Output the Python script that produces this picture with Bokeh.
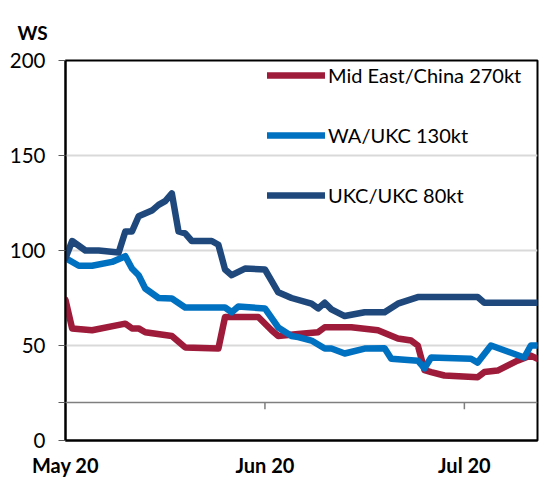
from datetime import datetime
from bokeh.plotting import figure
from bokeh.models import (ColumnDataSource, Legend, LegendItem, Span, FixedTicker,
                          DatetimeTickFormatter, Range1d)
from bokeh.embed import file_html
from bokeh.resources import INLINE

# ---- data ----
ukc_dates = ["2020-05-02", "2020-05-03", "2020-05-05", "2020-05-07", "2020-05-10", "2020-05-11",
             "2020-05-12", "2020-05-13", "2020-05-15", "2020-05-16", "2020-05-17", "2020-05-18",
             "2020-05-19", "2020-05-20", "2020-05-21", "2020-05-24", "2020-05-25", "2020-05-26",
             "2020-05-27", "2020-05-29", "2020-06-01", "2020-06-02", "2020-06-03", "2020-06-05",
             "2020-06-08", "2020-06-09", "2020-06-10", "2020-06-11", "2020-06-13", "2020-06-16",
             "2020-06-19", "2020-06-21", "2020-06-24", "2020-07-03", "2020-07-04", "2020-07-12"]
ukc_vals = [96, 105, 100, 100, 99, 110, 110, 118, 121, 124, 126, 130, 110, 109, 105, 105, 103, 90,
            87, 90.5, 90, 84, 78, 75, 72, 69.5, 72.5, 69, 65.5, 67.5, 67.5, 72, 75.5, 75.5, 72.5, 72.5]

wa_dates = ["2020-05-02", "2020-05-04", "2020-05-06", "2020-05-09", "2020-05-11", "2020-05-12",
            "2020-05-13", "2020-05-14", "2020-05-16", "2020-05-18", "2020-05-20", "2020-05-26",
            "2020-05-27", "2020-05-28", "2020-06-01", "2020-06-03", "2020-06-05", "2020-06-06",
            "2020-06-08", "2020-06-10", "2020-06-11", "2020-06-13", "2020-06-16", "2020-06-19",
            "2020-06-20", "2020-06-24", "2020-06-25", "2020-06-26", "2020-07-02", "2020-07-03",
            "2020-07-05", "2020-07-10", "2020-07-11", "2020-07-12"]
wa_vals = [96, 92, 92, 94, 97, 90.5, 87, 80, 75, 74.7, 70, 70, 67.5, 70.5, 69.5, 59.5, 55, 54.4,
           52.6, 48.4, 48.4, 45.8, 48.4, 48.6, 43, 42, 38, 43.7, 43, 41, 50, 43.7, 50, 50]

me_dates = ["2020-05-02", "2020-05-03", "2020-05-06", "2020-05-11", "2020-05-12", "2020-05-13",
            "2020-05-14", "2020-05-18", "2020-05-20", "2020-05-25", "2020-05-26", "2020-05-31",
            "2020-06-02", "2020-06-03", "2020-06-06", "2020-06-09", "2020-06-10", "2020-06-14",
            "2020-06-18", "2020-06-21", "2020-06-23", "2020-06-24", "2020-06-25", "2020-06-26",
            "2020-06-28", "2020-07-03", "2020-07-04", "2020-07-06", "2020-07-09", "2020-07-11",
            "2020-07-12"]
me_vals = [74, 59, 58, 61.5, 59, 59, 57, 55, 49, 48.4, 65, 65, 58, 55, 56, 57, 59.6, 59.6, 58,
           53.7, 52.6, 50, 37, 36, 34.2, 33.3, 36, 36.8, 42, 44.7, 43]

series_names = ["Mid East/China 270kt", "WA/UKC 130kt", "UKC/UKC 80kt"]
series_colors = ["#9e1b3a", "#0070c0", "#1f497d"]

x_ticks = ["2020-05-02", "2020-06-01", "2020-07-01"]
y_ticks = [0, 20, 50, 100, 150, 200]
x_start, x_end = "2020-05-02", "2020-07-12"
base_level = 20
unit_label = "WS"

def to_dt(lst):
    return [datetime.strptime(s, "%Y-%m-%d") for s in lst]

FONT = "Lato"

p = figure(width=539, height=479, x_axis_type="datetime", output_backend="svg",
           toolbar_location=None,
           x_range=Range1d(datetime.strptime(x_start, "%Y-%m-%d"), datetime.strptime(x_end, "%Y-%m-%d")),
           y_range=Range1d(0, 200),
           min_border_left=65, min_border_right=2, min_border_top=60, min_border_bottom=39)
p.background_fill_color = "white"
p.border_fill_color = "white"
p.outline_line_color = "black"
p.outline_line_width = 2

# unit label as title
p.title.text = unit_label
p.title.align = "left"
p.title.vertical_align = "top"
p.title.offset = -48
p.title.standoff = 29
p.title.text_font = FONT
p.title.text_font_style = "bold"
p.title.text_font_size = "19px"
p.title.text_color = "black"

# grid
p.xgrid.visible = False
p.ygrid.ticker = FixedTicker(ticks=[50, 100, 150])
p.ygrid.grid_line_color = "#d9d9d9"
p.ygrid.grid_line_width = 2

# base line at 20 with x ticks hanging from it
p.add_layout(Span(location=base_level, dimension="width", line_color="#7f7f7f", line_width=1.5))
tick_dt = to_dt(x_ticks)[1:]
p.segment(x0=tick_dt, y0=[base_level] * len(tick_dt), x1=tick_dt,
          y1=[base_level - 3.5] * len(tick_dt), line_color="#7f7f7f", line_width=1.5)

renderers = []
for d, v, c in zip([me_dates, wa_dates, ukc_dates], [me_vals, wa_vals, ukc_vals], series_colors):
    src = ColumnDataSource(dict(x=to_dt(d), y=v))
    r = p.line("x", "y", source=src, line_color=c, line_width=6.5, line_join="round", line_cap="round")
    renderers.append(r)

# axes
p.yaxis.ticker = FixedTicker(ticks=y_ticks)
p.yaxis.major_label_overrides = {20: ""}
p.yaxis.major_label_text_font = FONT
p.yaxis.major_label_text_font_size = "20.5px"
p.yaxis.major_label_text_color = "black"
p.yaxis.major_tick_out = 7
p.yaxis.major_tick_in = 0
p.yaxis.major_tick_line_color = "#595959"
p.yaxis.minor_tick_line_color = None
p.yaxis.axis_line_color = "black"
p.yaxis.axis_line_width = 2
p.yaxis.major_label_standoff = 13

p.xaxis.ticker = FixedTicker(ticks=[t.timestamp() * 1000 for t in to_dt(x_ticks)])
p.xaxis.formatter = DatetimeTickFormatter(days="%b %y", months="%b %y", years="%b %y",
                                          hours="%b %y", minutes="%b %y")
p.xaxis.major_label_text_font = FONT
p.xaxis.major_label_text_font_style = "bold"
p.xaxis.major_label_text_font_size = "20px"
p.xaxis.major_label_text_color = "black"
p.xaxis.major_tick_out = 0
p.xaxis.major_tick_in = 0
p.xaxis.minor_tick_line_color = None
p.xaxis.axis_line_color = "black"
p.xaxis.axis_line_width = 2
p.xaxis.major_label_standoff = 12

legend = Legend(items=[LegendItem(label=n, renderers=[r]) for n, r in zip(series_names, renderers)],
                location=(202, 233), padding=0, margin=0, spacing=36,
                glyph_width=58, glyph_height=20, label_height=20, label_standoff=3,
                label_text_font=FONT, label_text_font_size="20px", label_text_color="black",
                background_fill_alpha=0, border_line_alpha=0)
p.add_layout(legend)

open("out.html", "w").write(file_html(p, INLINE))
